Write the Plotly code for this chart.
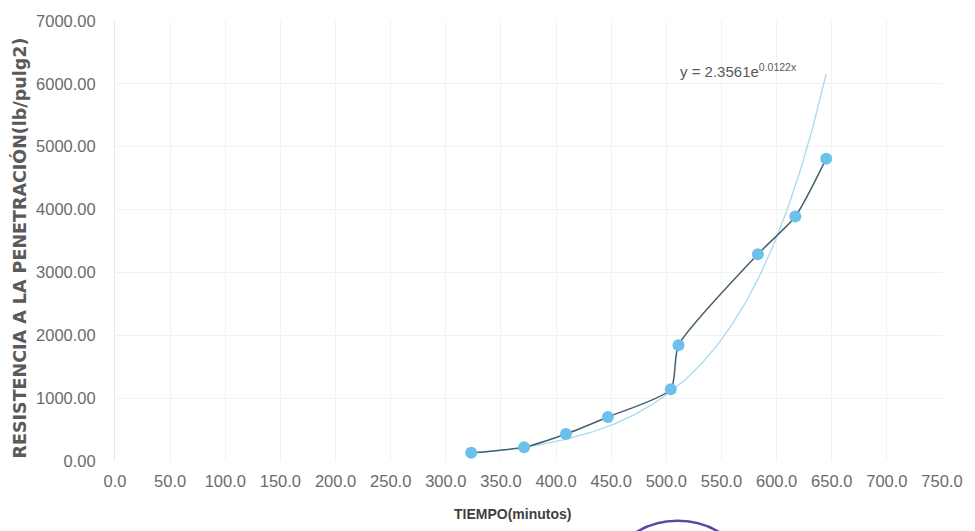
import numpy as np
import plotly.graph_objects as go

# Ensayo de resistencia a la penetración vs tiempo
tiempo_min = [323, 371, 409, 447, 504, 511, 583, 617, 645]
resistencia = [130, 220, 430, 700, 1140, 1840, 3290, 3890, 4810]

# Ajuste exponencial y = a * e^(b x)
coef_a = 2.3561
coef_b = 0.0122
ecuacion = "y = 2.3561e<sup>0.0122x</sup>"

x_ticks = [0, 50, 100, 150, 200, 250, 300, 350, 400, 450, 500, 550, 600, 650, 700, 750]
y_ticks = [0, 1000, 2000, 3000, 4000, 5000, 6000, 7000]

titulo_x = "<b>TIEMPO(minutos)</b>"
titulo_y = "<b>RESISTENCIA A LA PENETRACIÓN(lb/pulg2)</b>"

x_fit = np.linspace(min(tiempo_min), max(tiempo_min), 200)
y_fit = coef_a * np.exp(coef_b * x_fit)

fig = go.Figure()

fig.add_trace(go.Scatter(
    x=x_fit, y=y_fit, mode="lines",
    line=dict(color="#a6daf2", width=1.3),
    hoverinfo="skip", showlegend=False,
))

fig.add_trace(go.Scatter(
    x=tiempo_min, y=resistencia, mode="lines+markers",
    line=dict(color="#44606f", width=1.5, shape="spline", smoothing=0.6),
    marker=dict(color="#6cc1ea", size=12),
    showlegend=False,
))

fig.add_annotation(
    x=0.681, y=0.887, xref="paper", yref="paper",
    text=ecuacion, showarrow=False, xanchor="left", yanchor="middle",
    font=dict(family="Liberation Sans, Arial, sans-serif", size=15, color="#595959"),
)

# títulos de los ejes
fig.add_annotation(
    x=0.481, y=-0.12, xref="paper", yref="paper",
    text=titulo_x, showarrow=False, xanchor="center", yanchor="middle",
    font=dict(family="Liberation Sans, Arial, sans-serif", size=14, color="#3f3f3f"),
)
fig.add_annotation(
    x=-0.115, y=0.485, xref="paper", yref="paper",
    text=titulo_y, showarrow=False, textangle=-90,
    xanchor="center", yanchor="middle",
    font=dict(family="DejaVu Sans, sans-serif", size=17.5, color="#5a5a5a"),
)

# sello morado parcialmente visible al pie
fig.add_shape(
    type="circle", xref="paper", yref="paper",
    x0=(605 - 115) / 834, x1=(760 - 115) / 834,
    y0=(461 - 667) / 441, y1=(461 - 521) / 441,
    line=dict(color="#54489f", width=2.5), layer="above",
)

tick_font = dict(family="Liberation Sans, Arial, sans-serif", size=16.5, color="#6b6b6b")

fig.update_layout(
    width=975, height=531,
    margin=dict(l=115, r=26, t=20, b=70),
    paper_bgcolor="white", plot_bgcolor="white",
    font=dict(family="Liberation Sans, Arial, sans-serif"),
    xaxis=dict(
        range=[0, 750], tickvals=x_ticks,
        ticktext=[f"{v:.1f}" for v in x_ticks],
        tickfont=tick_font, showgrid=True, gridcolor="#f2f2f2", gridwidth=1,
        zeroline=False, showline=False, ticks="", ticklabelstandoff=8,
    ),
    yaxis=dict(
        range=[0, 7000], tickvals=y_ticks,
        ticktext=[f"{v:.2f}" for v in y_ticks],
        tickfont=tick_font, showgrid=True, gridcolor="#f2f2f2", gridwidth=1,
        zeroline=False, showline=True, linecolor="#e8e8e8", ticks="",
        ticklabelstandoff=15,
    ),
)

fig.write_html("out.html")
